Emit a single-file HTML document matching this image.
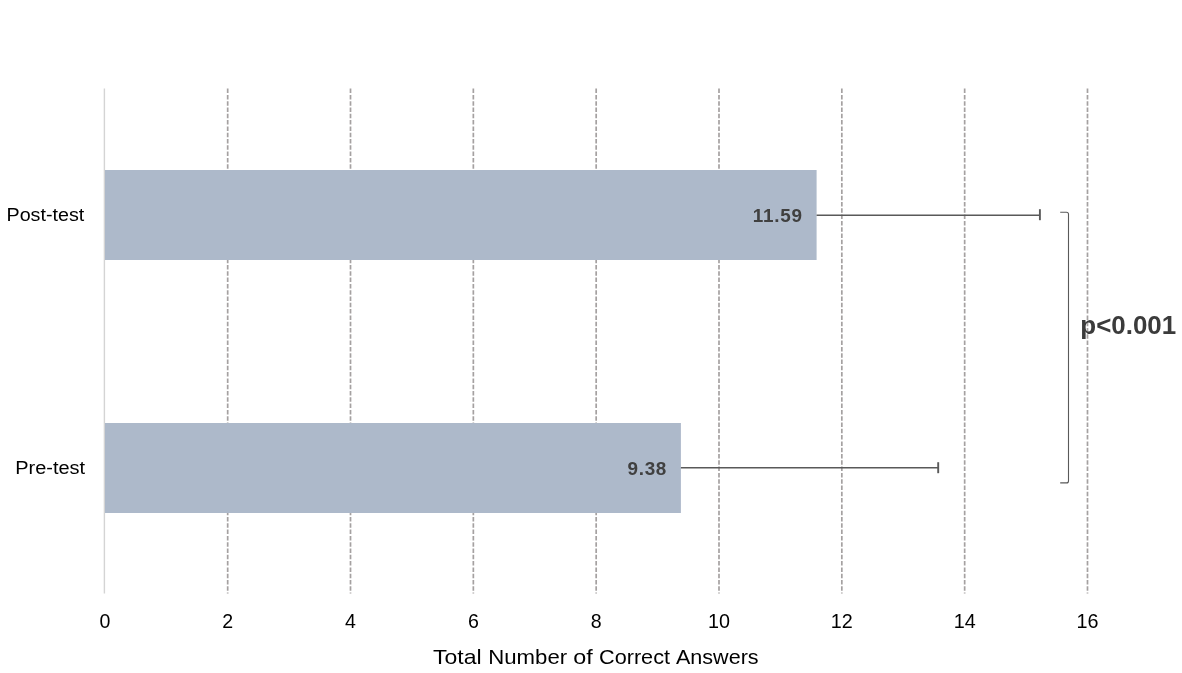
<!DOCTYPE html>
<html lang="en">
<head>
<meta charset="utf-8">
<title>Total Number of Correct Answers</title>
<style>
html,body{margin:0;padding:0;background:#fff;}
body{width:1182px;height:673px;overflow:hidden;}
svg{display:block;}
text{font-family:"Liberation Sans",sans-serif;}
.tick text{font-size:20.3px;fill:#000;}
.cat{font-size:19.1px;fill:#000;}
.val{font-size:18.9px;font-weight:bold;fill:#404040;}
.pv{font-size:25.8px;font-weight:bold;fill:#3b3b3b;}
.ttl{font-size:20.8px;fill:#000;}
.grid line{stroke:#a5a1a1;stroke-width:1.7;stroke-dasharray:4.5 1.8;}
.err{stroke:#595959;stroke-width:1.5;fill:none;}
.cap{stroke:#595959;stroke-width:1.9;fill:none;}
</style>
</head>
<body>
<svg width="1182" height="673" viewBox="0 0 1182 673">
<rect x="0" y="0" width="1182" height="673" fill="#ffffff"/>
<g class="grid">
<line x1="227.68" y1="88.6" x2="227.68" y2="593.5"/>
<line x1="350.51" y1="88.6" x2="350.51" y2="593.5"/>
<line x1="473.34" y1="88.6" x2="473.34" y2="593.5"/>
<line x1="596.17" y1="88.6" x2="596.17" y2="593.5"/>
<line x1="719.00" y1="88.6" x2="719.00" y2="593.5"/>
<line x1="841.83" y1="88.6" x2="841.83" y2="593.5"/>
<line x1="964.66" y1="88.6" x2="964.66" y2="593.5"/>
<line x1="1087.49" y1="88.6" x2="1087.49" y2="593.5"/>
</g>
<line x1="104.4" y1="88.4" x2="104.4" y2="593.5" stroke="#d4d4d4" stroke-width="1.4"/>
<rect x="105" y="170" width="711.6" height="90" fill="#adb9ca"/>
<rect x="105" y="423" width="575.9" height="90" fill="#adb9ca"/>
<g class="err">
<path d="M816.6 215.25H1040"/>
<path d="M680.9 467.65H938.3"/>
</g>
<path class="cap" d="M1039.9 209.2V220.2"/>
<path class="cap" d="M938.2 462.2V473.2"/>
<path d="M1060.2 212.2H1066.5Q1068.5 212.2 1068.5 214.2V480.9Q1068.5 482.9 1066.5 482.9H1060.2" fill="none" stroke="#595959" stroke-width="1.1"/>
<text class="val" x="752.80" y="222.2" textLength="49.10" lengthAdjust="spacing">11.59</text>
<text class="val" x="627.60" y="475.2" textLength="38.70" lengthAdjust="spacing">9.38</text>
<text class="cat" x="6.50" y="221.2" textLength="77.80" lengthAdjust="spacingAndGlyphs">Post-test</text>
<text class="cat" x="15.20" y="473.9" textLength="69.90" lengthAdjust="spacingAndGlyphs">Pre-test</text>
<text class="pv" x="1080.30" y="334.4" textLength="95.90" lengthAdjust="spacingAndGlyphs">p&lt;0.001</text>
<g class="tick">
<text x="99.40" y="628.2" textLength="10.90" lengthAdjust="spacingAndGlyphs">0</text>
<text x="222.23" y="628.2" textLength="10.90" lengthAdjust="spacingAndGlyphs">2</text>
<text x="345.06" y="628.2" textLength="10.90" lengthAdjust="spacingAndGlyphs">4</text>
<text x="467.89" y="628.2" textLength="10.90" lengthAdjust="spacingAndGlyphs">6</text>
<text x="590.72" y="628.2" textLength="10.90" lengthAdjust="spacingAndGlyphs">8</text>
<text x="708.00" y="628.2" textLength="22.00" lengthAdjust="spacingAndGlyphs">10</text>
<text x="830.83" y="628.2" textLength="22.00" lengthAdjust="spacingAndGlyphs">12</text>
<text x="953.66" y="628.2" textLength="22.00" lengthAdjust="spacingAndGlyphs">14</text>
<text x="1076.49" y="628.2" textLength="22.00" lengthAdjust="spacingAndGlyphs">16</text>
</g>
<text class="ttl" x="433.00" y="664" textLength="48.60" lengthAdjust="spacingAndGlyphs">Total</text>
<text class="ttl" x="488.30" y="664" textLength="78.80" lengthAdjust="spacingAndGlyphs">Number</text>
<text class="ttl" x="573.30" y="664" textLength="19.50" lengthAdjust="spacingAndGlyphs">of</text>
<text class="ttl" x="599.00" y="664" textLength="71.00" lengthAdjust="spacingAndGlyphs">Correct</text>
<text class="ttl" x="676.00" y="664" textLength="82.60" lengthAdjust="spacingAndGlyphs">Answers</text>
</svg>
</body>
</html>
